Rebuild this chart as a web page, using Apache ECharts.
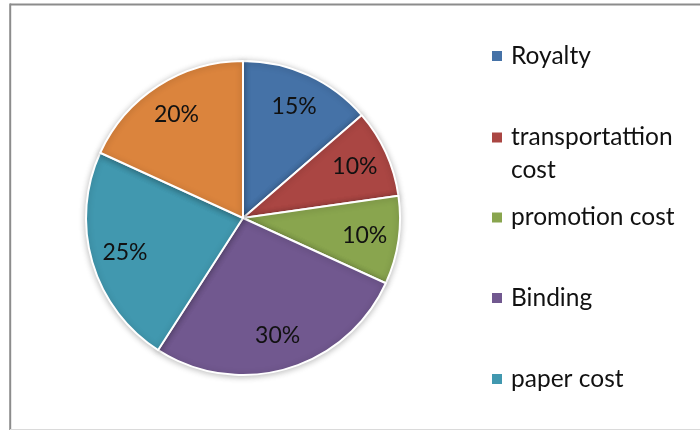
<!DOCTYPE html>
<html>
<head>
<meta charset="utf-8">
<script src="https://cdn.jsdelivr.net/npm/echarts@6/dist/echarts.min.js"></script>
<style>
  html, body { margin: 0; padding: 0; background: #ffffff; }
  #chart { width: 700px; height: 430px; }
</style>
</head>
<body>
<div id="chart"></div>
<script>
// Cost breakdown of a book
const categories = ['Royalty', 'transportattion cost', 'promotion cost', 'Binding', 'paper cost', 'Others'];
const values = [15, 10, 10, 30, 25, 20];
const colors = ['#4572A7', '#AA4643', '#89A54E', '#71588F', '#4198AF', '#DB843D'];
const legendNames = ['Royalty', 'transportattion cost', 'promotion cost', 'Binding', 'paper cost'];

const FONT = 'Lato, "Open Sans", sans-serif';
const CX = 243, CY = 218, R = 157;
const LEGEND_LH = 33;
const legendCenters = [56, 137.5, 217.5, 298, 379];

const pieData = categories.map((name, i) => ({
  name: name,
  value: values[i],
  itemStyle: { color: colors[i] }
}));

const legends = legendNames.map((name, i) => {
  const wrapped = name === 'transportattion cost';
  const lines = wrapped ? 3 : 1;
  return {
    data: [name],
    left: 490,
    top: legendCenters[i] - (lines * LEGEND_LH) / 2,
    orient: 'vertical',
    padding: 0,
    icon: 'rect',
    itemWidth: 12,
    itemHeight: 12,
    itemGap: 0,
    selectedMode: false,
    formatter: wrapped ? () => ' \ntransportattion\ncost' : '{name}',
    textStyle: {
      fontFamily: FONT,
      fontSize: 24.5,
      color: '#111111',
      lineHeight: LEGEND_LH,
      padding: [0, 0, 0, 3]
    }
  };
});

const chart = echarts.init(document.getElementById('chart'), null, { renderer: 'canvas' });
chart.setOption({
  backgroundColor: '#ffffff',
  animation: false,
  legend: legends,
  graphic: [
    { type: 'line', shape: { x1: 10, y1: 4.5, x2: 700, y2: 4.5 }, style: { stroke: '#8c8c8c', lineWidth: 2 }, silent: true },
    { type: 'line', shape: { x1: 10.2, y1: 3.5, x2: 10.2, y2: 430 }, style: { stroke: '#8c8c8c', lineWidth: 2 }, silent: true },
    { type: 'line', shape: { x1: 10, y1: 429.5, x2: 700, y2: 429.5 }, style: { stroke: '#dadada', lineWidth: 1 }, silent: true }
  ],
  series: [
    {
      type: 'pie',
      center: [CX, CY],
      radius: [0, R],
      startAngle: 90,
      clockwise: true,
      silent: true,
      label: { show: false },
      labelLine: { show: false },
      itemStyle: {
        borderColor: '#ffffff',
        borderWidth: 2,
        shadowBlur: 6,
        shadowColor: 'rgba(0,0,0,0.25)',
        shadowOffsetY: 1
      },
      data: pieData
    },
    {
      // transparent ring that carries the percent labels at ~3/4 radius
      type: 'pie',
      center: [CX, CY],
      radius: [83, R],
      startAngle: 90,
      clockwise: true,
      silent: true,
      legendHoverLink: false,
      itemStyle: { color: 'rgba(0,0,0,0)' },
      label: {
        show: true,
        position: 'inside',
        formatter: '{c}%',
        fontFamily: FONT,
        fontSize: 23,
        color: '#111111'
      },
      labelLine: { show: false },
      data: categories.map((name, i) => ({ name: name, value: values[i] }))
    }
  ]
});
</script>
</body>
</html>
